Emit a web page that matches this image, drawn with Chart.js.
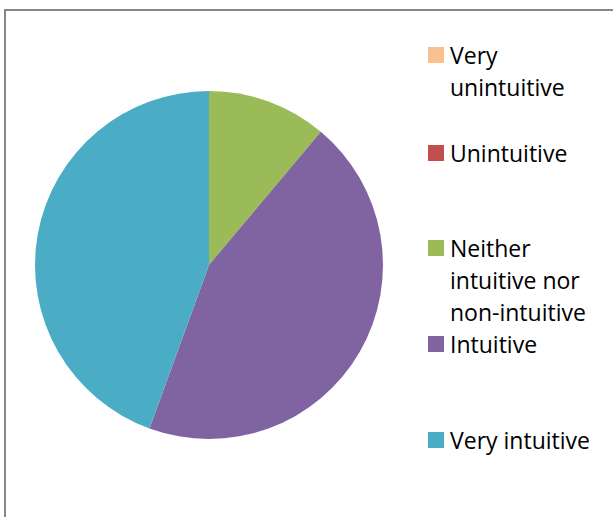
<!DOCTYPE html>
<html>
<head>
<meta charset="utf-8">
<script src="https://cdn.jsdelivr.net/npm/chart.js@4"></script>
<style>
    body { margin: 0; width: 613px; height: 517px; background: #fff; overflow: hidden; position: relative; font-family: "Open Sans", sans-serif; }
    .frame { position: absolute; left: 4px; top: 9px; width: 640px; height: 540px; border: 2px solid #868686; box-sizing: border-box; }
    .pie-box { position: absolute; left: 35px; top: 91px; width: 348px; height: 348px; }
    .legend-item { position: absolute; left: 428px; font-size: 23px; line-height: 32px; color: #000; }
    .legend-item .swatch { position: absolute; left: 0; top: 8px; width: 16px; height: 16px; }
    .legend-item .label { position: absolute; left: 22px; top: 0; white-space: nowrap; }
</style>
</head>
<body>
<div class="frame"></div>
<div class="pie-box"><canvas id="pieChart" width="348" height="348"></canvas></div>
<div id="legend"></div>
<script>
const categories = ['Very unintuitive', 'Unintuitive', 'Neither intuitive nor non-intuitive', 'Intuitive', 'Very intuitive'];
const legendLines = [['Very', 'unintuitive'], ['Unintuitive'], ['Neither', 'intuitive nor', 'non-intuitive'], ['Intuitive'], ['Very intuitive']];
const responses = [0, 0, 2, 8, 8];
const colors = ['#FAC090', '#C0504D', '#9BBB59', '#8064A2', '#4BACC6'];

// legend item tops, matched to the reference layout
const legendTops = [39, 137, 232, 328, 424];

function renderLegend() {
    const container = document.getElementById('legend');
    categories.forEach((cat, i) => {
        const item = document.createElement('div');
        item.className = 'legend-item';
        item.style.top = legendTops[i] + 'px';
        item.innerHTML = `
            <div class="swatch" style="background: ${colors[i]}"></div>
            <div class="label">${legendLines[i].join('<br>')}</div>
        `;
        container.appendChild(item);
    });
}

const ctx = document.getElementById('pieChart').getContext('2d');
new Chart(ctx, {
    type: 'pie',
    data: {
        labels: categories,
        datasets: [{
            data: responses,
            backgroundColor: colors,
            borderWidth: 0,
            hoverOffset: 0
        }]
    },
    options: {
        responsive: false,
        animation: false,
        layout: { padding: 0 },
        plugins: {
            legend: { display: false },
            tooltip: { enabled: false }
        }
    }
});

renderLegend();
</script>
</body>
</html>
